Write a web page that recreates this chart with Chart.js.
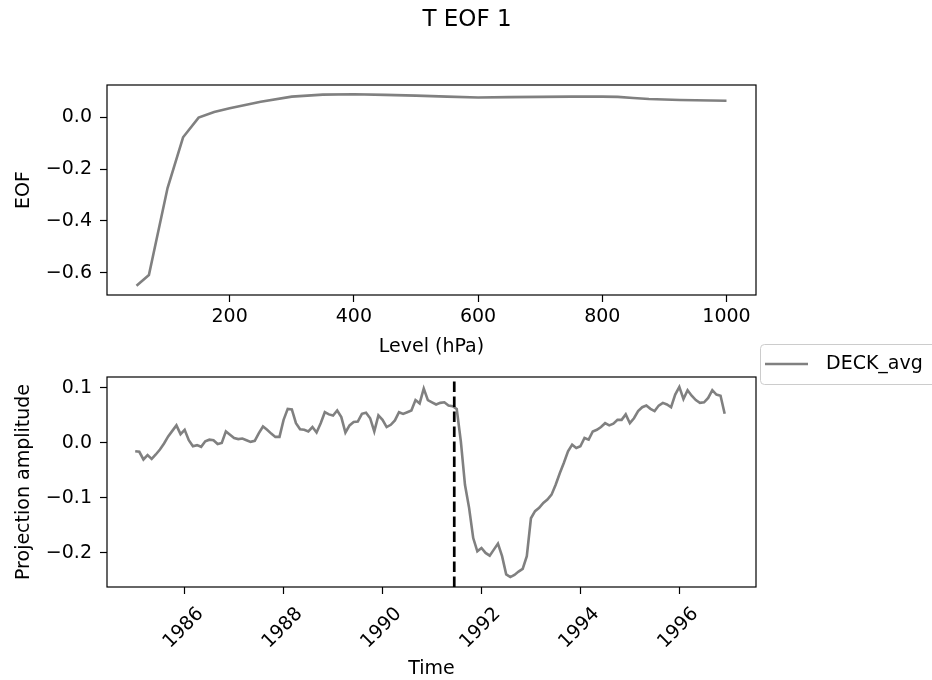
<!DOCTYPE html>
<html>
<head>
<meta charset="utf-8">
<script src="https://cdn.jsdelivr.net/npm/chart.js@4.4.1/dist/chart.umd.min.js"></script>
<style>
  html, body { margin: 0; padding: 0; background: #fff; }
  #wrap { position: relative; width: 932px; height: 680px; }
  #wrap canvas { position: absolute; left: 0; top: 0; }
</style>
</head>
<body>
<div id="wrap">
  <canvas id="eofChart" width="932" height="680"></canvas>
  <canvas id="projChart" width="932" height="680"></canvas>
</div>
<script>
// --- data ---
const figTitle = 'T EOF 1';
const seriesName = 'DECK_avg';

const levels = [50, 70, 100, 125, 150, 175, 200, 225, 250, 300, 350, 400, 450, 500, 550,
  600, 650, 700, 750, 775, 800, 825, 850, 875, 900, 925, 950, 975, 1000];
const eofValues = [-0.650, -0.609, -0.273, -0.077, -0.001, 0.021, 0.035, 0.048, 0.060, 0.080,
  0.088, 0.089, 0.087, 0.084, 0.080, 0.077, 0.078, 0.079, 0.080, 0.080, 0.080, 0.079, 0.075,
  0.071, 0.069, 0.067, 0.066, 0.065, 0.064];

const startYear = 1985; // monthly values, Jan 1985 .. Dec 1996
const projValues = [
  -0.015, -0.016, -0.030, -0.022, -0.029, -0.021, -0.012, -0.001, 0.012, 0.022, 0.032, 0.016,
  0.024, 0.005, -0.006, -0.004, -0.007, 0.003, 0.006, 0.005, -0.002, 0.000, 0.021, 0.015,
  0.009, 0.007, 0.008, 0.005, 0.002, 0.004, 0.018, 0.030, 0.024, 0.017, 0.011, 0.011,
  0.042, 0.062, 0.061, 0.036, 0.025, 0.024, 0.021, 0.029, 0.019, 0.036, 0.056, 0.052,
  0.050, 0.059, 0.047, 0.019, 0.032, 0.038, 0.039, 0.053, 0.055, 0.045, 0.021, 0.050,
  0.042, 0.029, 0.033, 0.041, 0.056, 0.053, 0.056, 0.059, 0.078, 0.072, 0.099, 0.078,
  0.074, 0.070, 0.073, 0.074, 0.068, 0.067, 0.062, 0.003, -0.076, -0.118, -0.173, -0.197,
  -0.191, -0.200, -0.205, -0.194, -0.183, -0.206, -0.239, -0.244, -0.240, -0.234, -0.229, -0.206,
  -0.137, -0.124, -0.118, -0.109, -0.103, -0.094, -0.076, -0.055, -0.036, -0.015, -0.003, -0.009,
  -0.006, 0.009, 0.006, 0.021, 0.024, 0.029, 0.036, 0.032, 0.035, 0.042, 0.042, 0.052,
  0.036, 0.045, 0.058, 0.065, 0.068, 0.062, 0.058, 0.068, 0.073, 0.070, 0.065, 0.088,
  0.102, 0.080, 0.096, 0.086, 0.078, 0.073, 0.074, 0.082, 0.096, 0.088, 0.086, 0.053
];
const eruptionTime = 1991.45; // dashed marker (June 1991)

const levelTicks = [200, 400, 600, 800, 1000];
const eofTicks = [-0.6, -0.4, -0.2, 0.0];
const yearTicks = [1986, 1988, 1990, 1992, 1994, 1996];
const projTicks = [-0.2, -0.1, 0.0, 0.1];

// --- styling ---
const FONT = 'DejaVu Sans';
const LINE_GREY = '#808080';
Chart.defaults.font.family = FONT;
Chart.defaults.color = '#000';

const fmt = (v) => v.toFixed(1).replace('-', '\u2212');
const plain = (v) => String(v);
const tickFont = { family: FONT, size: 19 };
const gridOpts = { drawOnChartArea: false, drawTicks: true, tickLength: 7, color: '#000', tickWidth: 1.2 };

// frame around the axes, dashed marker, legend, figure title
const framePlugin = {
  id: 'frame',
  afterDatasetsDraw(chart, args, opts) {
    const { ctx, chartArea: a } = chart;
    ctx.save();
    if (opts.vline !== undefined) {
      const x = chart.scales.x.getPixelForValue(opts.vline);
      ctx.strokeStyle = '#000';
      ctx.lineWidth = 2.7;
      ctx.setLineDash([10.5, 4.5]);
      ctx.beginPath();
      ctx.moveTo(x, a.bottom);
      ctx.lineTo(x, a.top);
      ctx.stroke();
      ctx.setLineDash([]);
    }
    ctx.strokeStyle = '#000';
    ctx.lineWidth = 1.2;
    ctx.strokeRect(a.left, a.top, a.right - a.left, a.bottom - a.top);
    if (opts.title) {
      ctx.fillStyle = '#000';
      ctx.font = '23px ' + FONT;
      ctx.textAlign = 'center';
      ctx.textBaseline = 'middle';
      ctx.fillText(opts.title, 467, 20);
    }
    if (opts.legend) {
      ctx.fillStyle = 'rgba(255,255,255,0.8)';
      ctx.strokeStyle = '#cccccc';
      ctx.lineWidth = 1;
      ctx.beginPath();
      ctx.roundRect(760.5, 344.5, 200, 40, 4);
      ctx.fill();
      ctx.stroke();
      ctx.strokeStyle = LINE_GREY;
      ctx.lineWidth = 2.6;
      ctx.beginPath();
      ctx.moveTo(765, 364);
      ctx.lineTo(808, 364);
      ctx.stroke();
      ctx.fillStyle = '#000';
      ctx.font = '19px ' + FONT;
      ctx.textAlign = 'left';
      ctx.textBaseline = 'middle';
      ctx.fillText(opts.legend, 826, 364);
    }
    ctx.restore();
  }
};

function lineDataset(xs, ys, label) {
  return {
    label: label,
    data: xs.map((x, i) => ({ x: x, y: ys[i] })),
    borderColor: LINE_GREY,
    borderWidth: 2.6,
    pointRadius: 0,
    tension: 0,
    fill: false
  };
}

// --- top panel: EOF profile ---
new Chart(document.getElementById('eofChart'), {
  type: 'line',
  data: { datasets: [lineDataset(levels, eofValues, 'EOF')] },
  options: {
    responsive: false,
    animation: false,
    devicePixelRatio: 1,
    layout: { padding: { left: 0, right: 176, top: 85, bottom: 322 } },
    plugins: {
      legend: { display: false },
      tooltip: { enabled: false },
      frame: { title: figTitle }
    },
    scales: {
      x: {
        type: 'linear',
        min: 2.5,
        max: 1047.5,
        afterBuildTicks: (s) => { s.ticks = levelTicks.map(v => ({ value: v })); },
        afterFit: (s) => { s.height = 63; },
        grid: gridOpts,
        border: { display: false },
        ticks: { font: tickFont, color: '#000', padding: 4, maxRotation: 0, autoSkip: false, callback: plain },
        title: { display: true, text: 'Level (hPa)', font: tickFont, color: '#000', padding: 0 }
      },
      y: {
        min: -0.686,
        max: 0.125,
        afterBuildTicks: (s) => { s.ticks = eofTicks.map(v => ({ value: v })); },
        afterFit: (s) => { s.width = 107; },
        grid: gridOpts,
        border: { display: false },
        ticks: { font: tickFont, color: '#000', padding: 8, callback: fmt },
        title: { display: true, text: 'EOF', font: tickFont, color: '#000', padding: { top: 12.6, bottom: 0 } }
      }
    }
  },
  plugins: [framePlugin]
});

// --- bottom panel: projection time series ---
const times = projValues.map((v, i) => startYear + i / 12);

new Chart(document.getElementById('projChart'), {
  type: 'line',
  data: { datasets: [lineDataset(times, projValues, seriesName)] },
  options: {
    responsive: false,
    animation: false,
    devicePixelRatio: 1,
    layout: { padding: { left: 0, right: 176, top: 377, bottom: 0 } },
    plugins: {
      legend: { display: false },
      tooltip: { enabled: false },
      frame: { vline: eruptionTime, legend: seriesName }
    },
    scales: {
      x: {
        type: 'linear',
        min: 1984.43,
        max: 1997.55,
        afterBuildTicks: (s) => { s.ticks = yearTicks.map(v => ({ value: v })); },
        afterFit: (s) => { s.height = 93; },
        grid: gridOpts,
        border: { display: false },
        ticks: {
          font: tickFont, color: '#000', padding: 9, labelOffset: 16,
          minRotation: 45, maxRotation: 45, autoSkip: false,
          callback: plain
        },
        title: { display: true, text: 'Time', font: tickFont, color: '#000', padding: 0 }
      },
      y: {
        min: -0.262,
        max: 0.120,
        afterBuildTicks: (s) => { s.ticks = projTicks.map(v => ({ value: v })); },
        afterFit: (s) => { s.width = 107; },
        grid: gridOpts,
        border: { display: false },
        ticks: { font: tickFont, color: '#000', padding: 8, callback: fmt },
        title: { display: true, text: 'Projection amplitude', font: tickFont, color: '#000', padding: { top: 12.6, bottom: 0 } }
      }
    }
  },
  plugins: [framePlugin]
});
</script>
</body>
</html>
